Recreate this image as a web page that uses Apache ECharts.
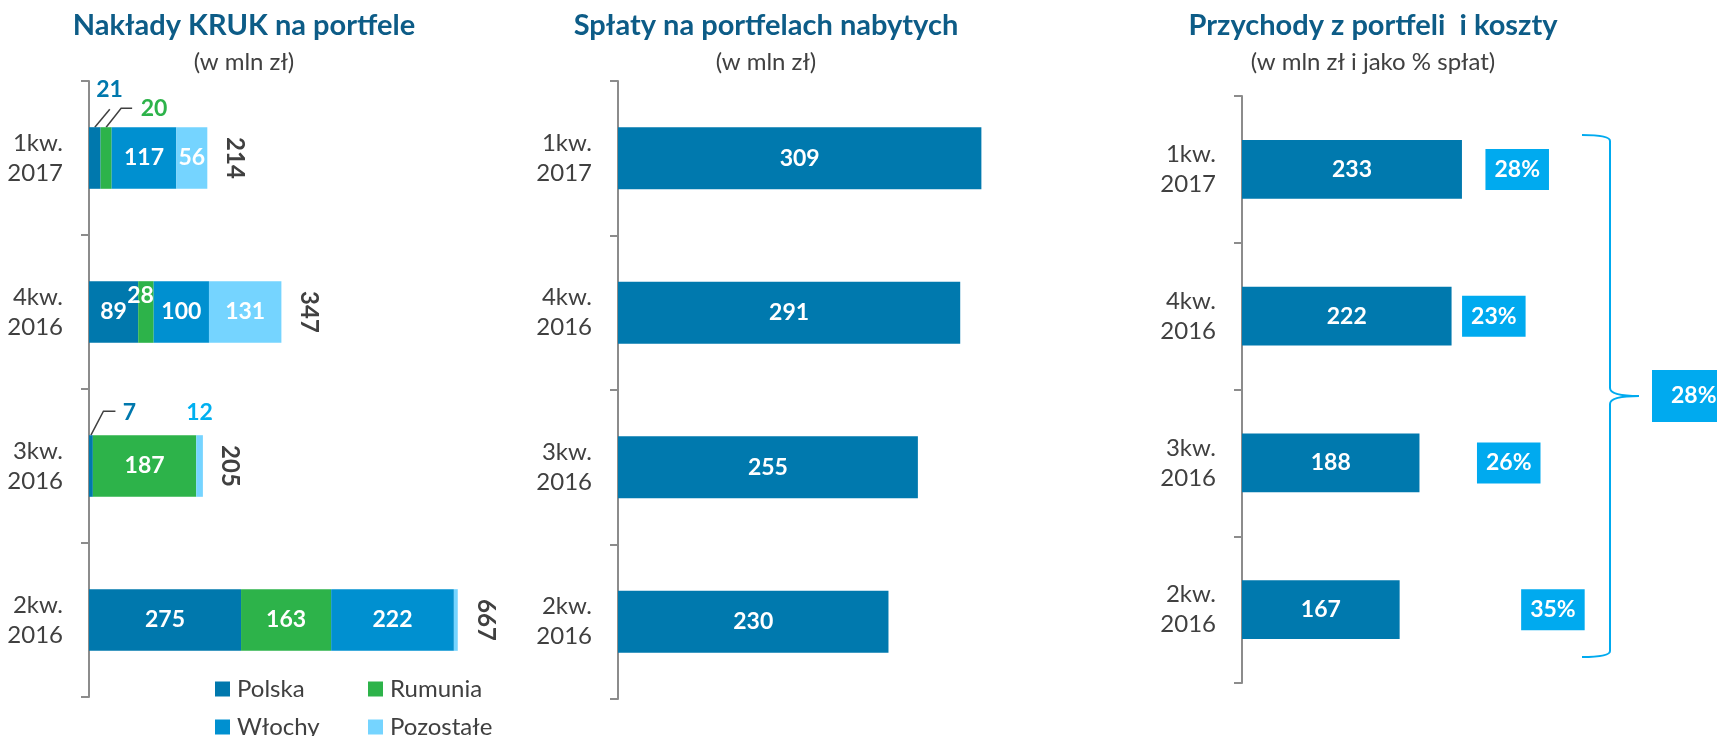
<!DOCTYPE html>
<html>
<head>
<meta charset="utf-8">
<title>KRUK - nakłady, spłaty, przychody</title>
<script src="https://cdn.jsdelivr.net/npm/echarts@6.0.0/dist/echarts.min.js"></script>
<style>
  html, body { margin: 0; padding: 0; background: #fff; }
  #chart { width: 1717px; height: 736px; }
</style>
</head>
<body>
<div id="chart"></div>
<script>
// dane
const categories = ['1kw.\n2017', '4kw.\n2016', '3kw.\n2016', '2kw.\n2016'];
const countries = ['Polska', 'Rumunia', 'Włochy', 'Pozostałe'];
const polska = [21, 89, 7, 275];
const rumunia = [20, 28, 187, 163];
const wlochy = [117, 100, 0, 222];
const pozostale = [56, 131, 12, 7];
const naklady = [214, 347, 205, 667];
const splaty = [309, 291, 255, 230];
const przychody = [233, 222, 188, 167];
const kosztyPct = [28, 23, 26, 35];
const kosztyPctOgolem = 28;
const titles = ['Nakłady KRUK na portfele', 'Spłaty na portfelach nabytych', 'Przychody z portfeli  i koszty'];
const subtitles = ['(w mln zł)', '(w mln zł)', '(w mln zł i jako % spłat)'];

const FONT = 'Lato';
const C_TXT = '#404040';
const C_AXIS = '#8c8c8c';
const C_TITLE = '#0d5c87';
const C_BAR = '#0079ae';
const C_PCT = '#00aaef';
const countryColors = ['#0078ad', '#2db34a', '#0090d0', '#75d4ff'];
const countryValues = [polska, rumunia, wlochy, pozostale];

// etykiety malych segmentow (seria-indeks)
const smallLabels = {
  '0-0': { position: [20.5, -37.5], color: '#0078ad' },
  '0-2': { position: [40.5, -23], color: '#0078ad' },
  '1-0': { position: [53.4, -18.5], color: '#2db34a' },
  '1-1': { position: [2.3, 14], color: '#fff' },
  '2-2': { show: false },
  '3-2': { position: ['50%', -23], color: '#00b0f0' },
  '3-3': { show: false }
};
const pctGap = [23, 10, 57, 121];

const chart = echarts.init(document.getElementById('chart'));

const barLabel = { show: true, position: 'inside', color: '#fff', fontWeight: 'bold', fontSize: 23, fontFamily: FONT };

function yAxis(gridIndex) {
  return {
    type: 'category', gridIndex, inverse: true, data: categories,
    axisLine: { lineStyle: { color: C_AXIS, width: 2 } },
    axisTick: { show: true, length: 8, lineStyle: { color: C_AXIS, width: 2 } },
    axisLabel: { color: C_TXT, fontSize: 24, lineHeight: 30, margin: 26, fontFamily: FONT }
  };
}

function legend(name, left, top) {
  return {
    data: [name], left, top, padding: 0,
    icon: 'rect', itemWidth: 15, itemHeight: 15,
    textStyle: { fontSize: 24, lineHeight: 24, color: C_TXT, fontFamily: FONT, padding: [0, 0, 0, 2] }
  };
}

const leftSeries = countries.map((name, s) => ({
  type: 'bar', name, stack: 'naklady', xAxisIndex: 0, yAxisIndex: 0, barWidth: '40%',
  itemStyle: { color: countryColors[s] },
  label: barLabel,
  data: countryValues[s].map((v, i) => {
    const o = smallLabels[s + '-' + i];
    return o ? { value: v, label: Object.assign({ align: 'center', verticalAlign: 'middle' }, o) } : v;
  })
}));

chart.setOption({
  animation: false,
  textStyle: { fontFamily: FONT },
  title: titles.map((t, i) => ({
    text: t, subtext: subtitles[i], left: [244, 766, 1373][i], top: 8, padding: 0,
    textAlign: 'center', itemGap: 3,
    textStyle: { fontSize: 29, fontWeight: 'bold', color: C_TITLE, lineHeight: 36, fontFamily: FONT },
    subtextStyle: { fontSize: 24, color: C_TXT, lineHeight: 30, fontFamily: FONT }
  })),
  legend: [
    legend('Polska', 215, 677), legend('Rumunia', 368, 677),
    legend('Włochy', 215, 715), legend('Pozostałe', 368, 715)
  ],
  grid: [
    { left: 89, top: 81, width: 387, height: 616, outerBoundsMode: 'none' },
    { left: 618, top: 81, width: 411.6, height: 618, outerBoundsMode: 'none' },
    { left: 1242, top: 96, width: 236, height: 587, outerBoundsMode: 'none' }
  ],
  xAxis: [
    { type: 'value', gridIndex: 0, min: 0, max: 700, show: false },
    { type: 'value', gridIndex: 1, min: 0, max: 350, show: false },
    { type: 'value', gridIndex: 2, min: 0, max: 250, show: false }
  ],
  yAxis: [yAxis(0), yAxis(1), yAxis(2)],
  series: [
    ...leftSeries,
    {
      type: 'scatter', xAxisIndex: 0, yAxisIndex: 0, symbolSize: 1, silent: true,
      itemStyle: { color: 'rgba(0,0,0,0)', opacity: 1 },
      label: {
        show: true, position: 'right', distance: 27, rotate: -90, align: 'center', verticalAlign: 'middle',
        color: C_TXT, fontWeight: 700, fontSize: 24, fontFamily: FONT, formatter: p => p.value[0]
      },
      data: naklady.map((v, i) => [v, i])
    },
    {
      type: 'bar', name: 'Spłaty', xAxisIndex: 1, yAxisIndex: 1, barWidth: '40%',
      itemStyle: { color: C_BAR }, label: barLabel, data: splaty
    },
    {
      type: 'bar', name: 'Przychody', xAxisIndex: 2, yAxisIndex: 2, barWidth: '40%',
      itemStyle: { color: C_BAR }, label: barLabel, data: przychody
    },
    {
      type: 'scatter', xAxisIndex: 2, yAxisIndex: 2, symbolSize: 1, silent: true,
      itemStyle: { color: 'rgba(0,0,0,0)', opacity: 1 },
      label: {
        show: true, position: 'right', color: '#fff', fontWeight: 'bold', fontSize: 23, fontFamily: FONT,
        backgroundColor: C_PCT, padding: [8, 9], lineHeight: 25,
        formatter: p => kosztyPct[p.dataIndex] + '%'
      },
      data: kosztyPct.map((v, i) => ({ value: [przychody[i], i], label: { distance: pctGap[i] } }))
    }
  ]
});

// linie odniesienia, klamra i laczny udzial kosztow
const px = (g, x, y) => chart.convertToPixel({ xAxisIndex: g, yAxisIndex: g }, [x, y]);
const band = px(0, 0, 1)[1] - px(0, 0, 0)[1];
const barTop = i => px(0, 0, i)[1] - band * 0.2;
function leader(x, y, dx, dy, run) {
  const pts = [[x, y], [x + dx, y + dy]];
  if (run) pts.push([x + dx + run, y + dy]);
  return { type: 'polyline', silent: true, shape: { points: pts }, style: { stroke: C_TXT, lineWidth: 1.5, fill: null } };
}
const braceStyle = { stroke: C_PCT, lineWidth: 2, fill: null };
const curve = (x1, y1, cx, cy, x2, y2) => ({
  type: 'bezierCurve', silent: true, shape: { x1, y1, cpx1: cx, cpy1: cy, x2, y2 }, style: braceStyle
});
const vline = (x, y1, y2) => ({ type: 'line', silent: true, shape: { x1: x, y1, x2: x, y2 }, style: braceStyle });

const top0 = barTop(0), top2 = barTop(2);
const bTop = px(2, 0, 0)[1] - 34.4;
const bBot = px(2, 0, 3)[1] + 47.4;
const bMid = (bTop + bBot) / 2;
const bx = 1610;
chart.setOption({
  graphic: [
    leader(px(0, polska[0] / 2, 0)[0], top0, 15, -18, 0),
    leader(px(0, polska[0] + rumunia[0] / 2, 0)[0], top0, 15, -19, 11),
    leader(px(0, polska[2] / 2, 2)[0], top2, 12.5, -24, 12),
    curve(bx - 28, bTop, bx, bTop, bx, bTop + 6),
    vline(bx, bTop + 6, bMid - 8),
    curve(bx, bMid - 8, bx, bMid, bx + 29, bMid),
    curve(bx + 29, bMid, bx, bMid, bx, bMid + 8),
    vline(bx, bMid + 8, bBot - 6),
    curve(bx, bBot - 6, bx, bBot, bx - 28, bBot),
    {
      type: 'text', silent: true, x: 1652, y: bMid - 26,
      style: {
        text: kosztyPctOgolem + '%', fill: '#fff', font: 'bold 23px ' + FONT,
        backgroundColor: C_PCT, padding: [14, 30, 14, 19], lineHeight: 24,
        align: 'left', verticalAlign: 'top'
      }
    }
  ]
});
</script>
</body>
</html>
